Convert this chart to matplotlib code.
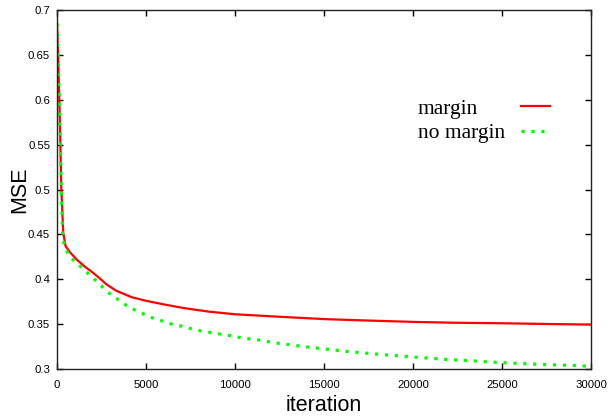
import matplotlib
matplotlib.use('Agg')
import matplotlib.pyplot as plt

# training curves
it_margin = [0, 60, 130, 190, 240, 350, 480, 730, 1160, 1570, 2040, 2400, 2800,
             3350, 4200, 5000, 6000, 7100, 8500, 10000, 12700, 15150, 17500,
             20000, 22500, 24900, 27500, 30000]
mse_margin = [0.685, 0.65, 0.6, 0.55, 0.502, 0.452, 0.437, 0.43, 0.421, 0.414,
              0.407, 0.401, 0.394, 0.387, 0.38, 0.376, 0.372, 0.368, 0.364,
              0.361, 0.358, 0.3555, 0.354, 0.3525, 0.3515, 0.351, 0.3502, 0.3495]

it_nomargin = [0, 60, 130, 190, 240, 320, 450, 730, 1160, 1570, 2000, 2420,
               2850, 3315, 3760, 4250, 4760, 5320, 5840, 6390, 6950, 7510, 8070,
               8640, 9200, 9820, 10470, 11030, 11600, 12120, 12710, 13280, 13840,
               14960, 16090, 17210, 18330, 19460, 20960, 22080, 23200, 24330,
               25450, 26570, 27700, 28820, 30000]
mse_nomargin = [0.685, 0.65, 0.6, 0.55, 0.502, 0.446, 0.435, 0.425, 0.417,
                0.4095, 0.402, 0.394, 0.3857, 0.379, 0.3726, 0.367, 0.3622,
                0.3573, 0.354, 0.3503, 0.348, 0.345, 0.3425, 0.3406, 0.3388,
                0.3369, 0.3343, 0.3332, 0.3316, 0.3294, 0.328, 0.3265, 0.325,
                0.3225, 0.320, 0.3179, 0.316, 0.3142, 0.312, 0.3104, 0.3093,
                0.3078, 0.3067, 0.3056, 0.3048, 0.3041, 0.303]

labels = ['margin', 'no margin']
xticks = [0, 5000, 10000, 15000, 20000, 25000, 30000]
yticks = [0.3, 0.35, 0.4, 0.45, 0.5, 0.55, 0.6, 0.65, 0.7]

plt.rcParams['font.family'] = ['Liberation Sans', 'DejaVu Sans']

fig = plt.figure(figsize=(6.09, 4.19), dpi=100)
ax = fig.add_axes([0.0936, 0.1193, 0.8768, 0.8568])

ax.plot(it_margin, mse_margin, color='#ff0000', lw=1.6, label=labels[0])
ax.plot(it_nomargin, mse_nomargin, color='#00ff00', lw=2.3,
        linestyle=(0, (1.0, 2.1)), dash_capstyle='butt', label=labels[1])

ax.set_xlim(0, 30000)
ax.set_ylim(0.3, 0.7)
ax.set_xticks(xticks)
ax.set_xticklabels([str(t) for t in xticks])
ax.set_yticks(yticks)
ax.set_yticklabels(['%g' % t for t in yticks])
ax.tick_params(direction='in', length=4, width=1, top=True, right=True,
               labelsize=8.2, colors='black')
ax.tick_params(axis='x', pad=8)
ax.tick_params(axis='y', pad=5)
for s in ax.spines.values():
    s.set_linewidth(1.0)
    s.set_color('#222222')

ax.set_xlabel('iteration', fontsize=15.5, labelpad=3.5)
ax.set_ylabel('MSE', fontsize=15.5, labelpad=-1.5)

leg = ax.legend(loc='center left', bbox_to_anchor=(0.655, 0.691),
                frameon=False, markerfirst=False, borderpad=0,
                handlelength=1.37, handletextpad=0.74, labelspacing=0.2,
                prop={'family': 'Liberation Serif', 'size': 15.5})

# gnuplot-style key: labels left aligned, samples lined up on the right
fig.canvas.draw()
r = fig.canvas.get_renderer()
w = [t.get_window_extent(r).width for t in leg.get_texts()]
rows = leg._legend_handle_box.get_children()[0].get_children()
for row, wi in zip(rows, w):
    row.sep += (max(w) - wi) * 72 / fig.dpi

fig.savefig('out.png', dpi=100)
